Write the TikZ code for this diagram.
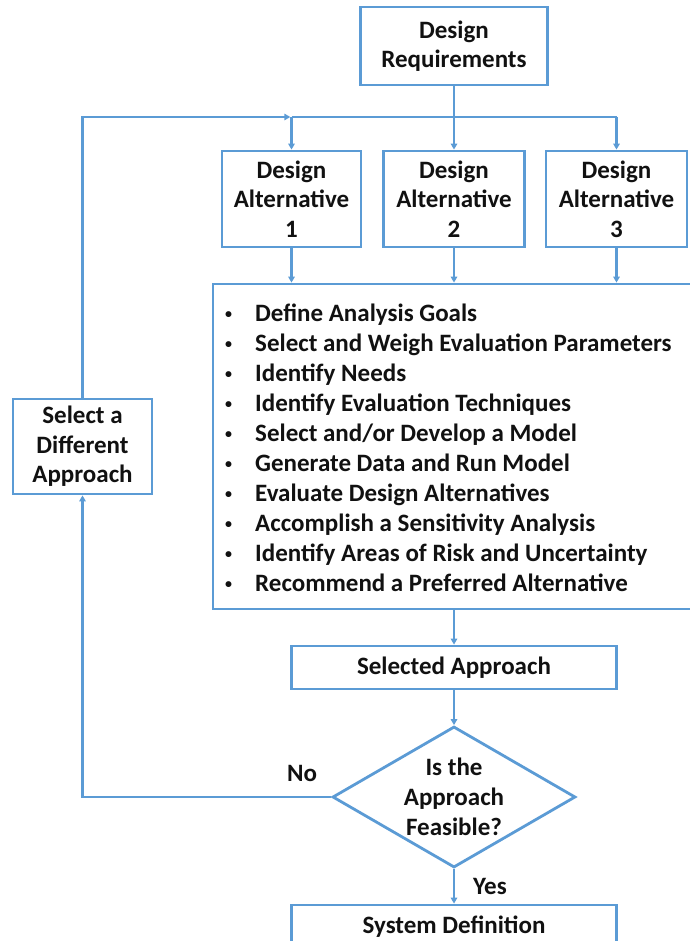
\documentclass[tikz,border=0pt]{standalone}
\usepackage{fontspec}
\setmainfont{Carlito}
\usetikzlibrary{arrows.meta,shapes.geometric}
\definecolor{flowblue}{HTML}{5B9BD5}
\definecolor{inkblack}{HTML}{111111}
\newcommand{\smallbullet}{\raisebox{2.2pt}{\fontsize{14}{14}\selectfont •}}
\begin{document}
\begin{tikzpicture}[x=1pt,y=-1pt,
  box/.style={draw=flowblue, line width=2.8pt, fill=white, inner sep=0pt,
    align=center, font=\fontsize{25}{29.5}\selectfont\bfseries, text=inkblack},
  lbl/.style={font=\fontsize{25}{30}\selectfont\bfseries, text=inkblack, inner sep=0pt, align=center},
  listitem/.style={font=\fontsize{25}{30}\selectfont\bfseries, text=inkblack, inner sep=0pt, anchor=base west},
  link/.style={draw=flowblue, line width=2.2pt},
  arrowlink/.style={link, -{Triangle[length=6pt,width=6.5pt]}}]
\useasboundingbox (0,0) rectangle (689,941);

% boxes
\node[box, minimum width=187, minimum height=78] (req) at (454,46) {Design\\Requirements};
\node[box, minimum width=139, minimum height=96] (alt1) at (291.5,199) {Design\\Alternative\\1};
\node[box, minimum width=141, minimum height=96] (alt2) at (454,199) {Design\\Alternative\\2};
\node[box, minimum width=141, minimum height=96] (alt3) at (616.5,199) {Design\\Alternative\\3};
\node[box, minimum width=492, minimum height=325] (steps) at (459,446.5) {};
\node[box, minimum width=139, minimum height=95] (sda) at (82.5,446.5) {Select a\\Different\\Approach};
\node[box, minimum width=325, minimum height=43] (sel) at (454,667.5) {Selected Approach};
\node[box, diamond, minimum width=243, minimum height=141] (feas) at (454,797) {};
\node[lbl] (feasT) at (454,797) {Is the\\Approach\\Feasible?};
\node[box, minimum width=325, minimum height=43] (sys) at (454,926.5) {System Definition};

% analysis steps
\foreach \t [count=\i] in {Define Analysis Goals,
  Select and Weigh Evaluation Parameters,
  Identify Needs,
  Identify Evaluation Techniques,
  Select and/or Develop a Model,
  Generate Data and Run Model,
  Evaluate Design Alternatives,
  Accomplish a Sensitivity Analysis,
  Identify Areas of Risk and Uncertainty,
  Recommend a Preferred Alternative}
  \node[listitem] (s\i) at (225,{291+30*\i}) {\makebox[30pt][l]{\smallbullet}\t};

% branch labels
\node[lbl] (no) at (302,773) {No};
\node[lbl] (yes) at (490,886) {Yes};

% distribution to the alternatives
\coordinate (j1) at (alt1.north |- 0,117);
\coordinate (j2) at (alt2.north |- 0,117);
\coordinate (j3) at (alt3.north |- 0,117);
\draw[link] (req.south) -- (j2);
\draw[link] (j1) -- (j3);
\draw[arrowlink] (j1) -- (alt1.north);
\draw[arrowlink] (j2) -- (alt2.north);
\draw[arrowlink] (j3) -- (alt3.north);

% alternatives into the analysis steps
\draw[arrowlink] (alt1.south) -- (alt1.south |- steps.north);
\draw[arrowlink] (alt2.south) -- (alt2.south |- steps.north);
\draw[arrowlink] (alt3.south) -- (alt3.south |- steps.north);

% main chain
\draw[arrowlink] (sel.north |- steps.south) -- (sel.north);
\draw[arrowlink] (sel.south) -- (feas.north);
\draw[arrowlink] (feas.south) -- (sys.north);

% rejection loop
\draw[arrowlink] (feas.west) -| (sda.south);
\draw[arrowlink] (sda.north) |- ([xshift=-1.2pt]j1);
\end{tikzpicture}
\end{document}
